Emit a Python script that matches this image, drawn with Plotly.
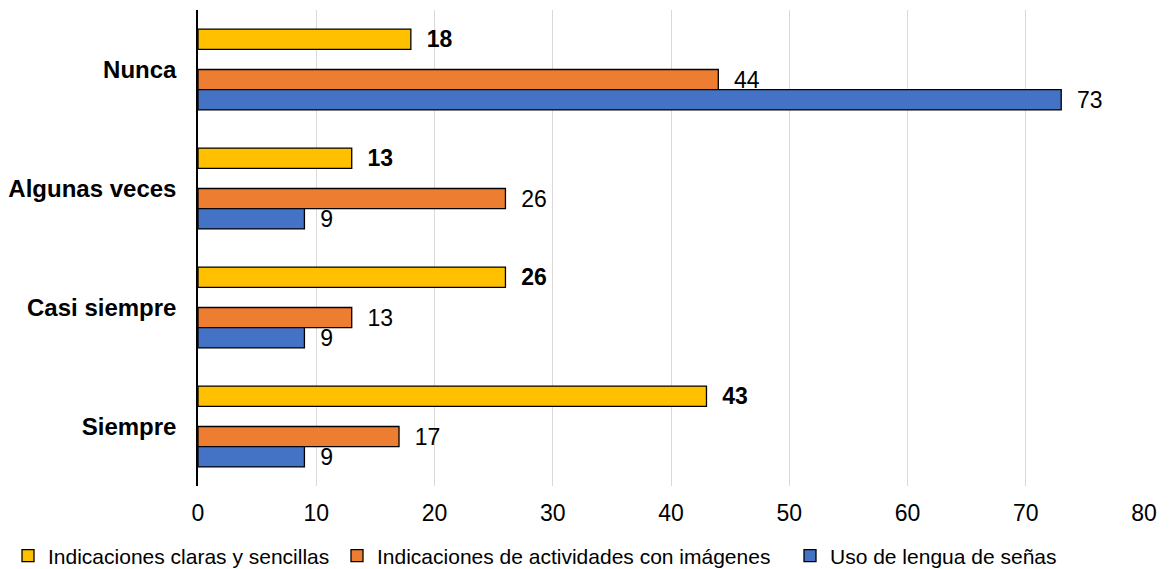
import plotly.graph_objects as go

categories = ["Nunca", "Algunas veces", "Casi siempre", "Siempre"]
claras = [18, 13, 26, 43]
imagenes = [44, 26, 13, 17]
senas = [73, 9, 9, 9]
x_ticks = [0, 10, 20, 30, 40, 50, 60, 70, 80]

FONT = "Liberation Sans, Arial, sans-serif"
NBSP = "\u00a0\u00a0"
W, H = 1163, 561  # page body adds 8px offset

fig = go.Figure()

fig.add_trace(go.Bar(
    y=categories, x=claras, orientation="h",
    name="Indicaciones claras y sencillas", legend="legend",
    marker=dict(color="#FFC000", line=dict(color="black", width=1.3)),
    text=[NBSP + str(v) for v in claras], textposition="outside",
    textfont=dict(family=FONT, size=23, color="black", weight="bold"),
))
# empty slot between the yellow bar and the others, as in the original
fig.add_trace(go.Bar(
    y=categories, x=[0, 0, 0, 0], orientation="h",
    showlegend=False, hoverinfo="skip",
    marker=dict(color="rgba(0,0,0,0)", line=dict(width=0)),
))
fig.add_trace(go.Bar(
    y=categories, x=imagenes, orientation="h",
    name="Indicaciones de actividades con imágenes", legend="legend2",
    marker=dict(color="#ED7D31", line=dict(color="black", width=1.3)),
    text=[NBSP + str(v) for v in imagenes], textposition="outside",
    textfont=dict(family=FONT, size=23, color="black"),
))
fig.add_trace(go.Bar(
    y=categories, x=senas, orientation="h",
    name="Uso de lengua de señas", legend="legend3",
    marker=dict(color="#4472C4", line=dict(color="black", width=1.3)),
    text=[NBSP + str(v) for v in senas], textposition="outside",
    textfont=dict(family=FONT, size=23, color="black"),
))

fig.update_traces(cliponaxis=False, constraintext="none", selector=dict(type="bar"))


def legend_at(left_px):
    return dict(
        orientation="h", xref="container", yref="container",
        x=left_px / W, y=(H - 548) / H, xanchor="left", yanchor="middle",
        font=dict(family=FONT, size=21, color="black"),
        itemwidth=30, bgcolor="rgba(0,0,0,0)",
    )


fig.update_layout(
    width=W, height=H,
    margin=dict(l=190, r=27, t=2, b=83, autoexpand=False),
    plot_bgcolor="white", paper_bgcolor="white",
    barmode="group", bargap=0.321, bargroupgap=0,
    font=dict(family=FONT, size=23, color="black"),
    showlegend=True,
    legend=legend_at(-8),
    legend2=legend_at(329),
    legend3=legend_at(782),
)
fig.update_xaxes(
    range=[0, 80], tickvals=x_ticks, automargin=False,
    showgrid=True, gridcolor="#D9D9D9", gridwidth=1,
    zeroline=False, showline=False,
    ticklabelstandoff=11,
    tickfont=dict(family=FONT, size=23, color="black"),
)
fig.update_yaxes(
    autorange="reversed", automargin=False,
    showline=True, linecolor="black", linewidth=1.5,
    showgrid=False, zeroline=False,
    ticklabelstandoff=15,
    tickfont=dict(family=FONT, size=24, color="black", weight="bold"),
)

fig.write_html("out.html")
